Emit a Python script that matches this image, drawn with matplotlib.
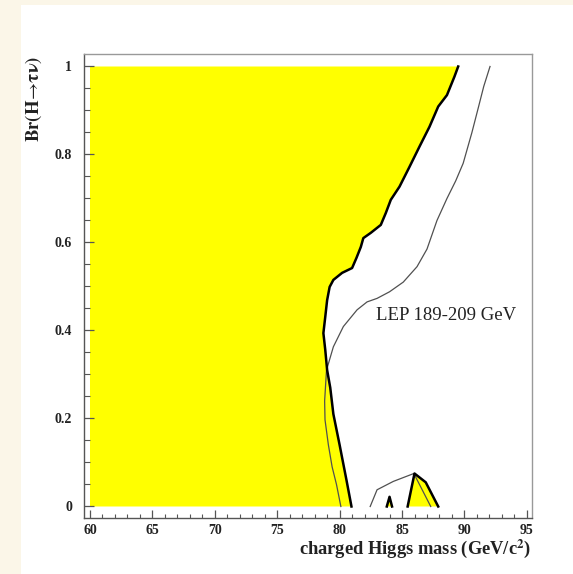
import matplotlib
matplotlib.use("Agg")
import matplotlib.pyplot as plt
from matplotlib.patches import Rectangle
from matplotlib.ticker import MultipleLocator, FixedLocator

plt.rcParams["mathtext.fontset"] = "stix"

# Observed exclusion boundary (thick), from Br=1 down to Br=0
obs_mass = [89.5, 89.2, 88.6, 87.9, 87.2, 86.4, 85.6, 84.8, 84.1, 83.7, 83.3,
            82.5, 81.9, 81.7, 81.35, 81.0, 80.2, 79.5, 79.2, 79.0, 78.85, 78.7,
            78.85, 79.0, 79.25, 79.5, 80.0, 80.55, 80.95]
obs_br = [1.0, 0.977, 0.935, 0.909, 0.863, 0.818, 0.772, 0.727, 0.697, 0.667,
          0.640, 0.622, 0.610, 0.590, 0.565, 0.542, 0.531, 0.515, 0.499, 0.469,
          0.431, 0.394, 0.356, 0.310, 0.270, 0.210, 0.140, 0.060, 0.0]

# Expected limit (thin), main branch
exp_mass = [92.05, 91.55, 91.1, 90.6, 90.1, 89.9, 89.3, 88.6, 87.8, 87.0, 86.2,
            85.1, 84.0, 83.0, 82.2, 81.4, 80.3, 79.5, 78.95, 78.8, 78.83, 79.1,
            79.4, 79.75, 80.1]
exp_br = [1.0, 0.955, 0.905, 0.85, 0.80, 0.78, 0.74, 0.70, 0.65, 0.585, 0.545,
          0.51, 0.488, 0.473, 0.465, 0.447, 0.409, 0.363, 0.31, 0.24, 0.197,
          0.14, 0.09, 0.05, 0.0]

# Expected limit (thin), small island at high mass
exp2_mass = [82.45, 83.0, 84.3, 85.95, 87.3]
exp2_br = [0.0, 0.038, 0.057, 0.075, 0.0]

# Small excluded islands (observed)
isl1_mass = [85.45, 86.0, 86.9, 87.9]
isl1_br = [0.0, 0.075, 0.055, 0.0]
isl2_mass = [83.78, 84.0, 84.2]
isl2_br = [0.0, 0.022, 0.0]

x_ticks = [60, 65, 70, 75, 80, 85, 90, 95]
y_ticks = [0, 0.2, 0.4, 0.6, 0.8, 1]
y_tick_labels = ["0", "0.2", "0.4", "0.6", "0.8", "1"]

YELLOW = "#ffff00"
SERIF = ["Liberation Serif", "DejaVu Serif"]

fig = plt.figure(figsize=(5.73, 5.74), dpi=100)
fig.patch.set_facecolor("#fbf6e8")
fig.add_artist(Rectangle((21 / 573, 0), 1 - 21 / 573, 1 - 5 / 574,
                         transform=fig.transFigure, facecolor="white",
                         edgecolor="none", zorder=0))

ax = fig.add_axes([84 / 573, 1 - 517.5 / 574, (531.7 - 84) / 573, (517.5 - 54) / 574])
ax.set_facecolor("white")
ax.set_xlim(59.52, 95.39)
ax.set_ylim(-0.025, 1.0284)

# Excluded region: from m=60 up to the observed boundary
ax.fill([60, 60] + obs_mass, [0, 1] + obs_br, color=YELLOW, lw=0, zorder=1)
ax.fill(isl1_mass, isl1_br, color=YELLOW, lw=0, zorder=1)
ax.fill(isl2_mass, isl2_br, color=YELLOW, lw=0, zorder=1)

ax.plot(exp_mass, exp_br, color="#505050", lw=0.9, zorder=2)
ax.plot(exp2_mass, exp2_br, color="#505050", lw=0.9, zorder=2)

for mx, by in [(obs_mass, obs_br), (isl1_mass, isl1_br), (isl2_mass, isl2_br)]:
    ax.plot(mx, by, color="black", lw=1.8, solid_joinstyle="round", zorder=3)

ax.text(82.92, 0.433, "LEP 189-209 GeV", family=SERIF, fontsize=13.5,
        va="center", ha="left", color="#222222")

# Axes styling
for side in ["top", "right"]:
    ax.spines[side].set_color("#999999")
    ax.spines[side].set_linewidth(1.0)
for side in ["left", "bottom"]:
    ax.spines[side].set_color("#555555")
    ax.spines[side].set_linewidth(1.0)

ax.xaxis.set_major_locator(FixedLocator(x_ticks))
ax.xaxis.set_minor_locator(MultipleLocator(1))
ax.yaxis.set_major_locator(FixedLocator(y_ticks))
ax.yaxis.set_minor_locator(MultipleLocator(0.05))
ax.set_yticklabels(y_tick_labels)

ax.tick_params(axis="x", which="major", direction="in", length=6, width=0.9,
               color="#555555", pad=5, top=False)
ax.tick_params(axis="x", which="minor", direction="in", length=3, width=0.8,
               color="#555555", top=False)
ax.tick_params(axis="y", which="major", direction="in", length=7, width=0.9,
               color="#555555", pad=8.5, right=False)
ax.tick_params(axis="y", which="minor", direction="in", length=4, width=0.8,
               color="#555555", right=False)

for lab in ax.get_xticklabels() + ax.get_yticklabels():
    lab.set_family(SERIF)
    lab.set_fontweight("bold")
    lab.set_fontsize(10)
    lab.set_color("#222222")

fig.text(531.7 / 573, 1 - 549 / 574, "charged Higgs mass (GeV/c$^{\\mathbf{2}}$)",
         family=SERIF, fontweight="bold", fontsize=13.3, ha="right", va="center",
         color="#222222")
fig.text(33.5 / 573, 1 - 98.5 / 574, "$\\mathbf{Br(H}\\!\\rightarrow\\!\\mathbf{τν)}$",
         fontsize=13.5, rotation=90, ha="center", va="center", color="#222222")

fig.savefig("out.png", dpi=100, facecolor=fig.get_facecolor())
